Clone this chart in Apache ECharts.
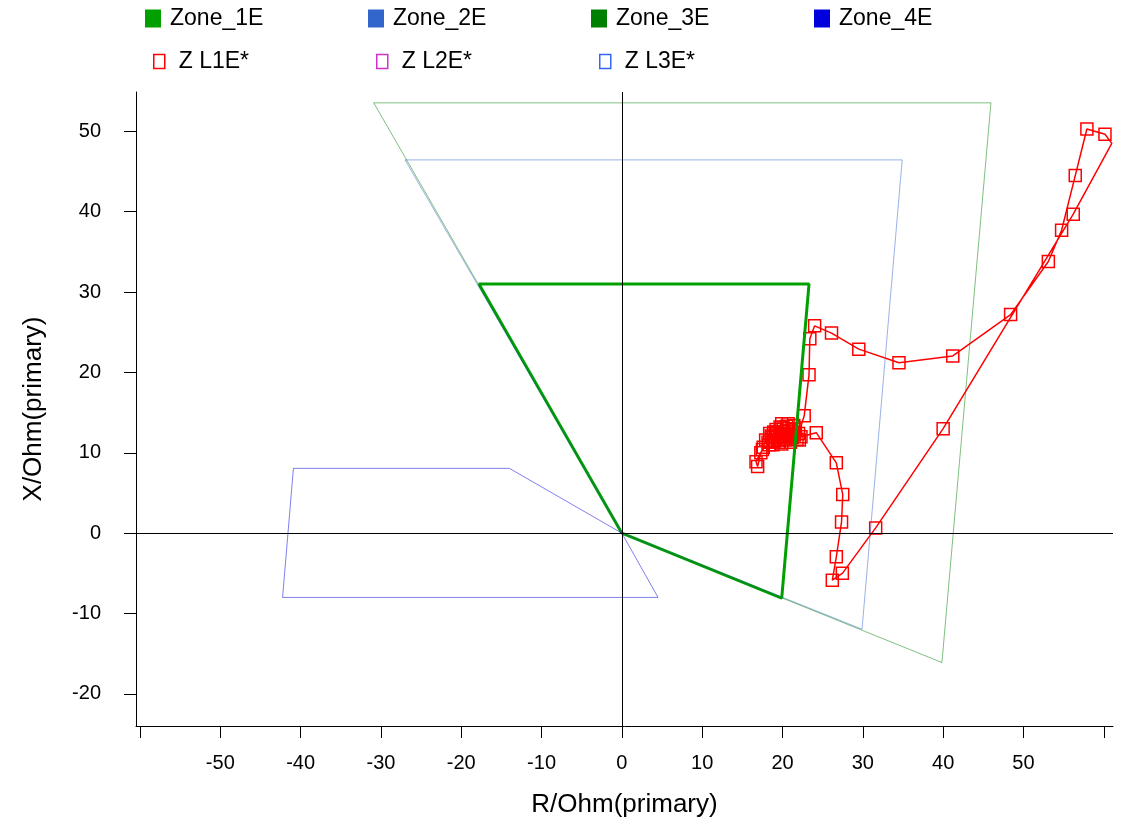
<!DOCTYPE html>
<html>
<head>
<meta charset="utf-8">
<script src="https://cdn.jsdelivr.net/npm/echarts@6/dist/echarts.min.js"></script>
<style>
  html, body { margin: 0; padding: 0; background: #ffffff; }
  #chart { width: 1126px; height: 820px; }
</style>
</head>
<body>
<div id="chart"></div>
<script>
// Distance protection zone characteristics, [R, X] in primary ohms
const zone1E = [[0, 0], [-17.8, 31.0], [23.3, 31.0], [19.9, -8.1], [0, 0]];
const zone2E = [[0, 0], [-27.0, 46.45], [34.9, 46.45], [29.9, -11.95], [0, 0]];
const zone3E = [[0, 0], [-30.9, 53.55], [45.95, 53.55], [39.85, -16.1], [0, 0]];
const zone4E = [[0, 0], [-14.0, 8.06], [-40.9, 8.06], [-42.25, -8.0], [4.5, -8.0], [0, 0]];

// Measured loop impedance trajectory L1-E, [R, X] in primary ohms
const zL1E = [
  [20.2, 12.1], [19.5, 11.6], [18.7, 11.9], [19.3, 12.6], [20.1, 13.1], [20.9, 12.7],
  [21.4, 13.4], [22.0, 12.4], [22.7, 14.6], [23.3, 19.7], [23.4, 24.2], [24.0, 25.8],
  [26.1, 24.9], [29.5, 22.9], [34.5, 21.2], [41.2, 22.05], [48.4, 27.2], [53.1, 33.8],
  [54.75, 37.7], [56.45, 44.5], [57.9, 50.3], [60.15, 49.65], [61.0, 48.5], [56.2, 39.7],
  [40.0, 13.0], [31.6, 0.65], [27.45, -5.0], [26.2, -5.85], [26.7, -2.95], [27.35, 1.4],
  [27.5, 4.8], [26.7, 8.75], [24.2, 12.5], [22.3, 12.0], [21.8, 11.7], [21.1, 12.3],
  [20.5, 13.3], [19.9, 13.6], [19.2, 12.9], [18.6, 12.1], [18.2, 11.3], [18.8, 11.0],
  [19.6, 11.3], [20.4, 11.6], [21.2, 11.9], [21.6, 12.9], [20.8, 13.0], [20.0, 12.4],
  [19.1, 12.2], [18.4, 12.4], [17.9, 11.6], [17.6, 10.7], [17.3, 10.0], [16.9, 8.3],
  [16.7, 8.9], [17.5, 10.4], [18.3, 11.0], [19.0, 11.5], [19.8, 11.9], [20.6, 12.2],
  [21.3, 12.6], [20.9, 11.9], [20.1, 11.7], [19.4, 12.0], [18.9, 12.6], [19.7, 13.2],
  [20.7, 13.6], [21.5, 12.2], [22.1, 11.6], [21.0, 11.3], [19.9, 11.1], [18.9, 11.4]
];
// samples drawn without a marker
const zL1EUnmarked = [22];

const zL2E = [];
const zL3E = [];

// Axis ticks and labels
const xTicks = [-60, -50, -40, -30, -20, -10, 0, 10, 20, 30, 40, 50, 60];
const xTickLabels = [-50, -40, -30, -20, -10, 0, 10, 20, 30, 40, 50];
const yTicks = [-20, -10, 0, 10, 20, 30, 40, 50];

const zoneNames = ['Zone_1E', 'Zone_2E', 'Zone_3E', 'Zone_4E'];
const traceNames = ['Z L1E*', 'Z L2E*', 'Z L3E*'];

const FONT = '"Liberation Sans", Arial, Helvetica, sans-serif';
const zoneColors = ['#00A000', '#3366CC', '#008000', '#0000DD'];
const traceColors = ['#FF0000', '#CC33CC', '#3366FF'];

const chart = echarts.init(document.getElementById('chart'), null, { renderer: 'canvas' });

const zoneLegends = zoneNames.map((n, i) => ({
  data: [{ name: n, icon: 'rect', itemStyle: { color: zoneColors[i], borderWidth: 0 } }],
  left: 145 + 223 * i, top: 7, padding: 0,
  itemWidth: 16, itemHeight: 18, selectedMode: false,
  textStyle: { fontFamily: FONT, fontSize: 23, color: '#000', padding: [0, 0, 0, 4] }
}));
const traceLegends = traceNames.map((n, i) => ({
  data: [{ name: n, icon: 'rect',
           itemStyle: { color: 'rgba(0,0,0,0)', borderColor: traceColors[i], borderWidth: 1.5 } }],
  left: 153 + 223 * i, top: 50, padding: 0,
  itemWidth: 11, itemHeight: 14, selectedMode: false,
  textStyle: { fontFamily: FONT, fontSize: 23, color: '#000', padding: [0, 0, 0, 9] }
}));

function traceSeries(name, pts, color, unmarked) {
  return {
    name: name, type: 'line', z: 2, animation: false, clip: true,
    data: pts.map((p, i) => unmarked && unmarked.indexOf(i) >= 0
      ? { value: p, symbol: 'none' } : p),
    symbol: 'rect', symbolSize: 12, showAllSymbol: true,
    itemStyle: { color: 'rgba(0,0,0,0)', borderColor: color, borderWidth: 1.5 },
    lineStyle: { color: color, width: 1.5 },
    emphasis: { disabled: true }
  };
}

function zoneSeries(name, pts, color, width, opacity) {
  return {
    name: name, type: 'line', z: 3, animation: false,
    data: pts, showSymbol: false, symbol: 'none',
    itemStyle: { color: color },
    lineStyle: { color: color, width: width, opacity: opacity },
    emphasis: { disabled: true }
  };
}

const option = {
  backgroundColor: '#ffffff',
  animation: false,
  legend: zoneLegends.concat(traceLegends),
  grid: { left: 136, right: 13, top: 92, bottom: 94, containLabel: false, outerBoundsMode: 'none' },
  xAxis: {
    type: 'value', min: -60.5, max: 61.15,
    axisLine: { show: true, onZero: false, lineStyle: { color: '#000', width: 1 } },
    axisTick: { show: true, length: 12, customValues: xTicks, lineStyle: { color: '#000', width: 1 } },
    axisLabel: { customValues: xTickLabels, margin: 27, fontFamily: FONT, fontSize: 20, color: '#000' },
    splitLine: { show: false },
    name: 'R/Ohm(primary)', nameLocation: 'middle', nameGap: 66,
    nameTextStyle: { fontFamily: FONT, fontSize: 26, color: '#000' }
  },
  yAxis: {
    type: 'value', min: -24.0, max: 54.9,
    axisLine: { show: true, onZero: false, lineStyle: { color: '#000', width: 1 } },
    axisTick: { show: true, length: 12, customValues: yTicks, lineStyle: { color: '#000', width: 1 } },
    axisLabel: { customValues: yTicks, margin: 35, fontFamily: FONT, fontSize: 20, color: '#000' },
    splitLine: { show: false },
    name: 'X/Ohm(primary)', nameLocation: 'middle', nameGap: 89, nameRotate: 90,
    nameTextStyle: { fontFamily: FONT, fontSize: 26, color: '#000' }
  },
  series: [
    {
      type: 'line', data: [], z: 1, silent: true, animation: false,
      markLine: {
        silent: true, symbol: ['none', 'none'], animation: false,
        label: { show: false },
        lineStyle: { color: '#000', width: 1, type: 'solid' },
        emphasis: { disabled: true },
        data: [{ xAxis: 0 }, { yAxis: 0 }]
      }
    },
    traceSeries('Z L1E*', zL1E, traceColors[0], zL1EUnmarked),
    traceSeries('Z L2E*', zL2E, traceColors[1]),
    traceSeries('Z L3E*', zL3E, traceColors[2]),
    zoneSeries('Zone_1E', zone1E, zoneColors[0], 3, 1),
    zoneSeries('Zone_2E', zone2E, zoneColors[1], 1, 0.5),
    zoneSeries('Zone_3E', zone3E, zoneColors[2], 1, 0.5),
    zoneSeries('Zone_4E', zone4E, zoneColors[3], 1, 0.5)
  ]
};

chart.setOption(option);
</script>
</body>
</html>
